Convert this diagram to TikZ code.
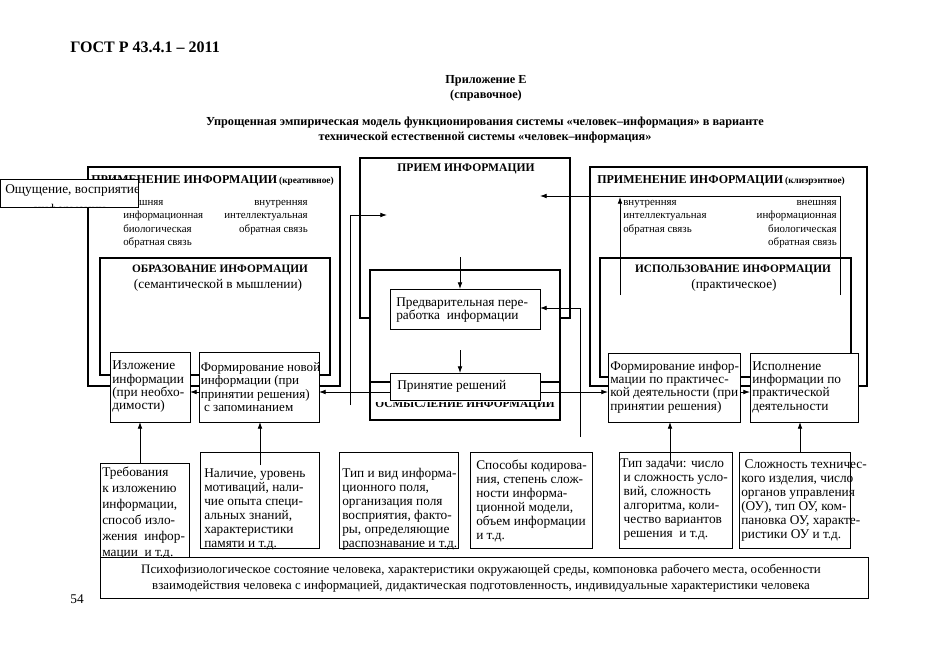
\documentclass[tikz,border=0pt]{standalone}
\usepackage{fontspec}
\setmainfont{Liberation Serif}
\usetikzlibrary{arrows.meta}
\newcommand{\bx}[6][]{\node[#1, minimum width={(#5-#3)*0.75pt}, minimum height={(#6-#4)*0.75pt}] (#2) at (#3,#4) {};}
\begin{document}
\begin{tikzpicture}[x=0.75pt,y=-0.75pt,
  box/.style={draw, line width=0.6pt, fill=white, inner sep=0pt, outer sep=0pt, anchor=north west},
  thickbox/.style={draw, line width=2pt, inner sep=0pt, outer sep=0pt, anchor=north west},
  midbox/.style={draw, line width=1.5pt, inner sep=0pt, outer sep=0pt, anchor=north west},
  txt/.style={font=\fontsize{10}{10}\selectfont, align=left, inner sep=0pt, anchor=west},
  btxt/.style={font=\fontsize{10}{10.5}\selectfont, align=left, inner sep=0pt, anchor=west},
  capt/.style={font=\bfseries\fontsize{9}{9}\selectfont, inner sep=0pt},
  icapt/.style={font=\bfseries\fontsize{8.5}{9}\selectfont, inner sep=0pt},
  fb/.style={font=\fontsize{8.2}{10}\selectfont, inner sep=0pt},
  conn/.style={line width=0.6pt},
  arr/.style={conn, -{Latex[length=5pt,width=3.5pt]}},
]
\useasboundingbox (0,0) rectangle (935,661);

% header
\node[font=\bfseries\fontsize{12}{14}\selectfont, anchor=west, inner sep=0pt] (gost) at (70,47) {ГОСТ Р 43.4.1 – 2011};
\node[font=\bfseries\fontsize{9.2}{11}\selectfont, align=center, inner sep=0pt] (app) at (486,88) {Приложение Е\\(справочное)};
\node[font=\bfseries\fontsize{9.2}{11}\selectfont, align=center, inner sep=0pt] (title) at (485,130) {Упрощенная эмпирическая модель функционирования системы «человек–информация» в варианте\\технической естественной системы «человек–информация»};

% ---------- left block
\bx[thickbox]{lout}{88}{167}{340}{386}
\node[capt, anchor=west] (lhead) at (91,181) {ПРИМЕНЕНИЕ ИНФОРМАЦИИ\,{\fontsize{7}{7}\selectfont(креативное)}};
\node[fb, align=left, anchor=north west] (lfb1) at (123,200) {внешняя\\информационная\\биологическая\\обратная связь};
\node[fb, align=right, anchor=north east] (lfb2) at (308,200) {внутренняя\\интеллектуальная\\обратная связь};
\bx[thickbox]{obr}{100}{258}{330}{375}
\node[icapt] (obrT) at (220,270) {ОБРАЗОВАНИЕ ИНФОРМАЦИИ};
\node[font=\fontsize{10}{11}\selectfont, inner sep=0pt] (obrS) at (218,285) {(семантической в мышлении)};
\bx[box]{izl}{110}{352}{190}{422}
\node[txt] (izlT) at (112,387) {Изложение\\информации\\(при необхо-\\димости)};
\bx[box]{form}{199}{352}{319}{422}
\node[txt, font=\fontsize{9.8}{10}\selectfont] (formT) at (200.5,387) {Формирование новой\\информации (при\\принятии решения)\\\ с запоминанием};
\bx[box]{osh}{0}{179}{138}{207}
\begin{scope}
\clip (0,179) rectangle (138,207);
\node[font=\fontsize{10}{11}\selectfont, inner sep=0pt, anchor=west] (osh1) at (5,191) {Ощущение, восприятие};
\node[font=\fontsize{10}{11}\selectfont, inner sep=0pt] (osh2) at (70,210) {информации};
\end{scope}

% ---------- centre block
\bx[midbox]{priem}{360}{158}{570}{318}
\node[font=\bfseries\fontsize{8.7}{9}\selectfont, inner sep=0pt] (priemT) at (466,169) {ПРИЕМ ИНФОРМАЦИИ};
\bx[thickbox, fill=white]{osm}{370}{270}{560}{420}
\draw[line width=2pt] (osm.west |- 0,382) -- (osm.east |- 0,382);
\begin{scope}
\clip (370,402) rectangle (560,420);
\node[icapt, anchor=base] (osmT) at (465,407.5) {ОСМЫСЛЕНИЕ ИНФОРМАЦИИ};
\end{scope}
\bx[box]{pred}{390}{289}{540}{329}
\node[txt] (predT) at (396,310) {Предварительная пере-\\работка\ \ информации};
\bx[box]{prin}{390}{373}{540}{400}
\node[txt] (prinT) at (397,386) {Принятие решений};

% ---------- right block
\bx[thickbox]{rout}{590}{167}{867}{386}
\node[capt, anchor=west] (rhead) at (597,181) {ПРИМЕНЕНИЕ ИНФОРМАЦИИ\,{\fontsize{7}{7}\selectfont(клиэрэнтное)}};
\node[fb, align=left, anchor=north west] (rfb1) at (623,200) {внутренняя\\интеллектуальная\\обратная связь};
\node[fb, align=right, anchor=north east] (rfb2) at (837,200) {внешняя\\информационная\\биологическая\\обратная связь};
\bx[thickbox]{isp}{600}{258}{851}{377}
\node[icapt] (ispT) at (733,270) {ИСПОЛЬЗОВАНИЕ ИНФОРМАЦИИ};
\node[font=\fontsize{10}{11}\selectfont, inner sep=0pt] (ispS) at (734,285) {(практическое)};
\bx[box]{fpr}{608}{353}{740}{422}
\node[txt] (fprT) at (610,387) {Формирование инфор-\\мации по практичес-\\кой деятельности (при\\принятии решения)};
\bx[box]{ispl}{750}{353}{858}{422}
\node[txt] (isplT) at (752,387) {Исполнение\\информации по\\практической\\деятельности};

% ---------- bottom boxes
\bx[box]{treb}{100}{463}{189}{557}
\node[txt, font=\fontsize{10}{12}\selectfont] (trebT) at (102,513) {Требования\\к изложению\\информации,\\способ изло-\\жения\ \ инфор-\\мации\ \ и т.д.};
\bx[box]{nal}{200}{452}{319}{548}
\node[btxt] (nalT) at (204,509) {Наличие, уровень\\мотиваций, нали-\\чие опыта специ-\\альных знаний,\\характеристики\\памяти и т.д.};
\bx[box]{tip}{339}{452}{458}{548}
\node[btxt] (tipT) at (342,509) {Тип и вид информа-\\ционного поля,\\организация поля\\восприятия, факто-\\ры, определяющие\\распознавание и т.д.};
\bx[box]{spos}{470}{452}{592}{548}
\node[btxt] (sposT) at (476,501) {Способы кодирова-\\ния, степень слож-\\ности информа-\\ционной модели,\\объем информации\\и т.д.};
\bx[box]{zad}{619}{452}{732}{548}
\node[btxt] (zadT) at (620,500) {Тип задачи: число\\\ и сложность усло-\\\ вий, сложность\\\ алгоритма, коли-\\\ чество вариантов\\\ решения\ \ и т.д.};
\bx[box]{slo}{739}{452}{850}{548}
\node[btxt] (sloT) at (741,500) {\ Сложность техничес-\\кого изделия, число\\органов управления\\(ОУ), тип ОУ, ком-\\пановка ОУ, характе-\\ристики ОУ и т.д.};
\bx[box]{strip}{100}{557}{868}{598}
\node[font=\fontsize{9.7}{12}\selectfont, align=center, inner sep=0pt] (stripT) at (481,578) {Психофизиологическое состояние человека, характеристики окружающей среды, компоновка рабочего места, особенности\\взаимодействия человека с информацией, дидактическая подготовленность, индивидуальные характеристики человека};
\node[font=\fontsize{10}{11}\selectfont, inner sep=0pt] (page) at (77,599) {54};

% ---------- connectors
\coordinate (lfree) at (350,405);
\coordinate (rfree) at (580,437);
\coordinate (fb1) at (620,295);
\coordinate (fb2) at (840,295);
\coordinate (p1) at (460,257);
\coordinate (p2) at (460,350);
\draw[arr] (lfree) -- (350,215) -- (387,215);
\draw[arr] (fb2) -- (840,196) -- (540,196);
\draw[arr] (fb1) -- (620,197);
\draw[arr] (p1) -- (pred.north -| p1);
\draw[arr] (p2) -- (prin.north -| p2);
\draw[arr] (rfree) -- (580,308) -- (pred.east |- 0,308);
\draw[arr] (prin.west |- 0,392) -- (form.east |- 0,392);
\draw[arr] (form.west |- 0,392) -- (izl.east |- 0,392);
\draw[arr] (prin.east |- 0,392) -- (fpr.west |- 0,392);
\draw[arr] (fpr.east |- 0,392) -- (ispl.west |- 0,392);
\draw[arr] (treb.north -| 140,0) -- (izl.south -| 140,0);
\draw[arr] (260,465) -- (form.south -| 260,0);
\draw[arr] (670,462) -- (fpr.south -| 670,0);
\draw[arr] (slo.north -| 800,0) -- (ispl.south -| 800,0);
\end{tikzpicture}
\end{document}
